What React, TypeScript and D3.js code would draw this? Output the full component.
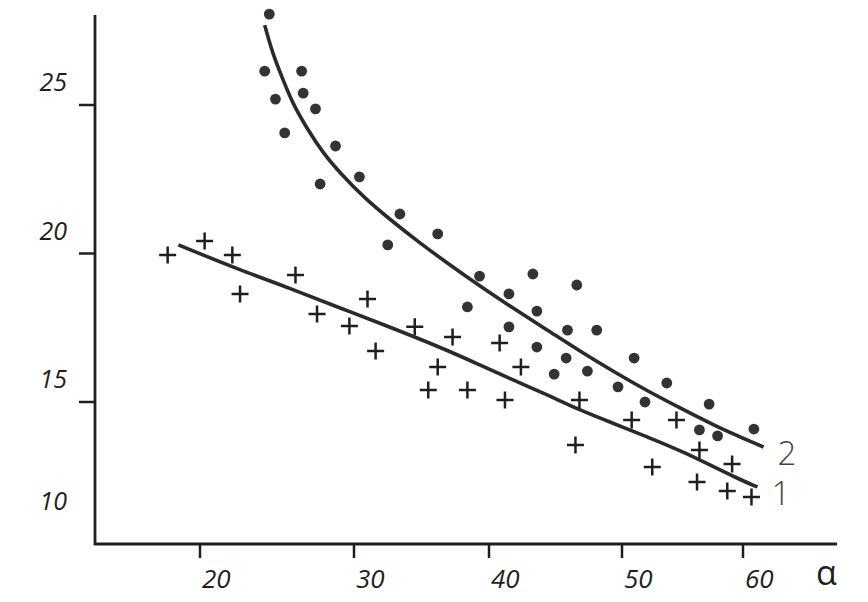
import React, { useEffect, useRef } from 'react';
import * as d3 from 'd3';

// tick values
const xTicks = [20, 30, 40, 50, 60];
const yTicks = [25, 20, 15, 10];
const axisName = 'α';

// series 2 (dots)
const dotAlpha = [24.5, 24.2, 26.6, 24.9, 26.7, 27.5, 25.5, 28.8, 27.8, 30.4, 33.4, 36.2, 32.5, 39.3, 38.4, 41.5, 43.3, 46.6, 43.6, 41.5, 45.9, 48.1, 43.6, 45.8, 44.9, 47.4, 51.0, 49.7, 53.7, 51.9, 57.2, 56.4, 57.9, 60.9];
const dotValue = [28.06, 26.14, 26.14, 25.2, 25.4, 24.87, 24.06, 23.62, 22.34, 22.58, 21.33, 20.66, 20.29, 19.24, 18.2, 18.64, 19.31, 18.94, 18.06, 17.53, 17.42, 17.42, 16.85, 16.48, 15.94, 16.04, 16.48, 15.51, 15.64, 15.0, 14.93, 14.06, 13.86, 14.09];

// series 1 (crosses)
const crossAlpha = [17.9, 20.3, 22.1, 22.6, 26.2, 27.6, 29.7, 31.0, 31.6, 34.5, 37.3, 36.2, 35.5, 38.4, 40.8, 42.4, 41.2, 46.8, 46.5, 50.8, 52.5, 54.5, 56.4, 56.2, 59.1, 58.7, 60.7];
const crossValue = [19.95, 20.42, 19.95, 18.64, 19.28, 17.96, 17.56, 18.47, 16.72, 17.53, 17.19, 16.18, 15.4, 15.4, 16.99, 16.18, 15.07, 15.07, 13.55, 14.39, 12.81, 14.39, 13.38, 12.31, 12.91, 12.0, 11.8];

// fitted curve 1
const fit1Alpha = [18.6, 22.6, 25.8, 29.1, 31.9, 36.9, 39.3, 41.8, 44.4, 46.8, 49.3, 52.1, 54.8, 59.8, 61.2];
const fit1Value = [20.29, 19.44, 18.84, 18.16, 17.66, 16.75, 16.25, 15.74, 15.24, 14.73, 14.29, 13.82, 13.38, 12.37, 12.14];

// fitted curve 2
const fit2Alpha = [24.2, 24.7, 25.4, 26.0, 27.0, 28.0, 29.1, 30.7, 32.7, 34.9, 36.9, 39.3, 41.8, 44.4, 46.8, 49.3, 52.1, 54.8, 57.5, 61.7];
const fit2Value = [27.69, 26.75, 25.84, 25.07, 24.16, 23.38, 22.71, 21.9, 21.13, 20.35, 19.68, 18.91, 18.16, 17.42, 16.72, 16.04, 15.37, 14.8, 14.23, 13.48];

const curveNames = ['1', '2'];

const Chart = ({ width, height }: { width: number; height: number }) => {
    const ref = useRef<SVGSVGElement>(null);

    useEffect(() => {
        const frame = { left: 95, top: 15, right: 837, bottom: 544 };
        const ink = '#1f1f1f';
        const font = '"Open Sans", sans-serif';

        const svg = d3.select(ref.current);
        svg.selectAll('*').remove();

        svg.append('rect').attr('width', width).attr('height', height).attr('fill', '#fff');

        // the printed axis is not evenly spaced, so the scale is piecewise
        const x = d3.scaleLinear().domain(xTicks).range([200, 354, 489, 622, 743]);
        const y = d3.scaleLinear().domain([15, 25]).range([402, 105]);

        const line = d3
            .line<[number, number]>()
            .x((d) => x(d[0]))
            .y((d) => y(d[1]))
            .curve(d3.curveBasis);

        // axes frame
        svg.append('path')
            .attr('d', `M${frame.left},${frame.top}V${frame.bottom}H${frame.right}`)
            .attr('fill', 'none')
            .attr('stroke', ink)
            .attr('stroke-width', 2.8);

        // x ticks
        const gx = svg.append('g');
        gx.selectAll('line')
            .data(xTicks)
            .join('line')
            .attr('x1', (d) => x(d))
            .attr('x2', (d) => x(d))
            .attr('y1', frame.bottom)
            .attr('y2', frame.bottom + 14)
            .attr('stroke', ink)
            .attr('stroke-width', 2.5);
        gx.selectAll('text')
            .data(xTicks)
            .join('text')
            .attr('x', (d) => x(d) + 2)
            .attr('y', frame.bottom + 44)
            .text((d) => d)
            .style('font-family', font)
            .style('font-style', 'italic')
            .style('font-size', '26px')
            .attr('fill', ink);

        // y ticks (10 has no tick mark, its label is pulled up into the frame)
        const gy = svg.append('g');
        gy.selectAll('line')
            .data(yTicks.filter((d) => y(d) < frame.bottom))
            .join('line')
            .attr('x1', frame.left - 16)
            .attr('x2', frame.left)
            .attr('y1', (d) => y(d))
            .attr('y2', (d) => y(d))
            .attr('stroke', ink)
            .attr('stroke-width', 2.5);
        gy.selectAll('text')
            .data(yTicks)
            .join('text')
            .attr('x', 67)
            .attr('y', (d) => Math.min(y(d) - 14, frame.bottom - 34))
            .attr('text-anchor', 'end')
            .text((d) => d)
            .style('font-family', font)
            .style('font-style', 'italic')
            .style('font-size', '25px')
            .attr('fill', ink);

        // fitted curves
        const fits: [number, number][][] = [
            fit1Alpha.map((a, i) => [a, fit1Value[i]]),
            fit2Alpha.map((a, i) => [a, fit2Value[i]]),
        ];
        svg.selectAll('path.fit')
            .data(fits)
            .join('path')
            .attr('class', 'fit')
            .attr('d', (d) => line(d))
            .attr('fill', 'none')
            .attr('stroke', '#2a2a2a')
            .attr('stroke-width', 3.6);

        // curve numbers at the ends
        svg.selectAll('text.name')
            .data(fits)
            .join('text')
            .attr('class', 'name')
            .attr('x', (d) => x(d[d.length - 1][0]) + 14)
            .attr('y', (d) => y(d[d.length - 1][1]) + 18)
            .text((_, i) => curveNames[i])
            .style('font-family', font)
            .style('font-weight', 300)
            .style('font-size', '33px')
            .attr('fill', '#444');

        // dots
        svg.append('g')
            .selectAll('circle')
            .data(dotAlpha)
            .join('circle')
            .attr('cx', (d) => x(d))
            .attr('cy', (_, i) => y(dotValue[i]))
            .attr('r', 5.4)
            .attr('fill', '#333');

        // crosses
        const s = 8.5;
        svg.append('g')
            .selectAll('path')
            .data(crossAlpha)
            .join('path')
            .attr('d', (d, i) => {
                const cx = x(d);
                const cy = y(crossValue[i]);
                return `M${cx - s},${cy}H${cx + s}M${cx},${cy - s}V${cy + s}`;
            })
            .attr('stroke', '#1e1e1e')
            .attr('stroke-width', 2.5)
            .attr('fill', 'none');

        // axis name
        svg.append('text')
            .attr('x', frame.right - 21)
            .attr('y', frame.bottom + 41)
            .text(axisName)
            .style('font-family', font)
            .style('font-size', '34px')
            .attr('fill', ink);
    }, [width, height]);

    return (
        <svg
            ref={ref}
            width={width}
            height={height}
            style={{ position: 'absolute', left: 0, top: 0, display: 'block' }}
        />
    );
};

export default function App() {
    return <Chart width={868} height={602} />;
}
